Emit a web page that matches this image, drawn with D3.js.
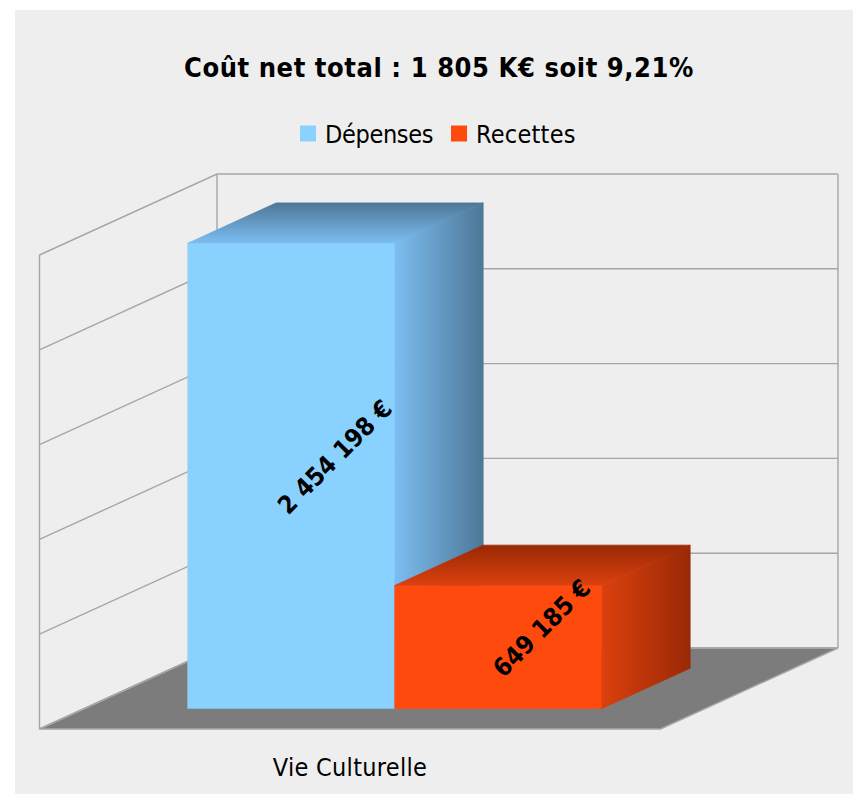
<!DOCTYPE html>
<html>
<head>
<meta charset="utf-8">
<script src="https://cdnjs.cloudflare.com/ajax/libs/d3/7.8.5/d3.min.js"></script>
<style>
  html, body { margin: 0; padding: 0; background: #fff; }
  svg { display: block; }
  text { font-family: "DejaVu Sans", sans-serif; font-stretch: condensed; fill: #000; }
</style>
</head>
<body>
<div id="chart"></div>
<script>
// Data
const chartTitle = 'Coût net total : 1 805 K€ soit 9,21%';
const category = 'Vie Culturelle';
const seriesNames = ['Dépenses', 'Recettes'];
const seriesValues = [2454198, 649185];
const valueLabels = ['2 454 198 €', '649 185 €'];
const seriesColors = ['#89d2ff', '#ff4a0d'];
const sideColors = [['#7cbef2', '#4e7797'], ['#dc400e', '#992905']];
const axisMax = 2500000;

const W = 853, H = 794;
const svg = d3.select('#chart').append('svg').attr('width', W).attr('height', H);

// panel
svg.append('rect').attr('x', 15).attr('y', 10).attr('width', W - 15).attr('height', H - 10).attr('fill', '#eeeeee');

// front-left corner of the floor, and how far the depth axis runs
const origin = {x: 39.5, y: 729};
const depth = {x: 177.5, y: 81};

const xScale = d3.scaleBand().domain(seriesNames).range([0, 621]).paddingInner(0).paddingOuter(0.5);
const yScale = d3.scaleLinear().domain([0, axisMax]).range([0, 474]);
const floorW = xScale.range()[1];

// x along the floor, v is a value, z goes 0 (front) to 1 (back)
const project = (x, v, z) => [origin.x + x + z * depth.x, origin.y - yScale(v) - z * depth.y];
const poly = pts => 'M' + pts.map(p => p.join(',')).join('L') + 'Z';
const line3d = d3.line();

const defs = svg.append('defs');
seriesNames.forEach((s, i) => {
  const side = defs.append('linearGradient').attr('id', 'side' + i);
  side.append('stop').attr('offset', '0%').attr('stop-color', sideColors[i][0]);
  side.append('stop').attr('offset', '100%').attr('stop-color', sideColors[i][1]);
  const top = defs.append('linearGradient').attr('id', 'top' + i)
    .attr('x1', 0).attr('y1', 1).attr('x2', 0).attr('y2', 0);
  top.append('stop').attr('offset', '0%').attr('stop-color', sideColors[i][0]);
  top.append('stop').attr('offset', '100%').attr('stop-color', sideColors[i][1]);
});

const gridColor = '#a6a6a6';

// floor
svg.append('path')
  .attr('d', poly([project(0, 0, 0), project(floorW, 0, 0), project(floorW, 0, 1), project(0, 0, 1)]))
  .attr('fill', '#7c7c7c').attr('stroke', gridColor).attr('stroke-width', 1.4);

const walls = svg.append('g').attr('fill', 'none').attr('stroke', gridColor).attr('stroke-width', 1.4);

// gridlines on the left and back walls
yScale.ticks(5).forEach(t => {
  walls.append('path').attr('d', line3d([project(0, t, 0), project(0, t, 1), project(floorW, t, 1)]));
});
walls.append('path').attr('d', line3d([project(0, 0, 0), project(0, axisMax, 0)]));
walls.append('path').attr('d', line3d([project(0, 0, 1), project(0, axisMax, 1)]));
walls.append('path').attr('d', line3d([project(floorW, 0, 1), project(floorW, axisMax, 1)]));

// bars, left one first so the red one overlaps its side
const zFront = 0.25, zBack = 0.75;
const bars = svg.append('g');
seriesNames.forEach((s, i) => {
  const x0 = xScale(s), x1 = x0 + xScale.bandwidth(), v = seriesValues[i];
  const g = bars.append('g');
  // thin stroke of the same gradient closes the seam along the diagonal
  g.append('path')
    .attr('d', poly([project(x1, 0, zFront), project(x1, v, zFront), project(x1, v, zBack), project(x1, 0, zBack)]))
    .attr('fill', `url(#side${i})`).attr('stroke', `url(#side${i})`).attr('stroke-width', 0.8);
  g.append('path')
    .attr('d', poly([project(x0, v, zFront), project(x1, v, zFront), project(x1, v, zBack), project(x0, v, zBack)]))
    .attr('fill', `url(#top${i})`).attr('stroke', `url(#top${i})`).attr('stroke-width', 0.8);
  g.append('path')
    .attr('d', poly([project(x0, 0, zFront), project(x1, 0, zFront), project(x1, v, zFront), project(x0, v, zFront)]))
    .attr('fill', seriesColors[i]);
});

// value labels
seriesNames.forEach((s, i) => {
  const x = xScale(s) + xScale.bandwidth() / 2;
  const p = project(x, seriesValues[i] / 2, zFront);
  svg.append('text')
    .attr('transform', `translate(${p[0] + 44},${p[1] - 19}) rotate(-45)`)
    .attr('text-anchor', 'middle').attr('dominant-baseline', 'central')
    .attr('font-size', 25).attr('font-weight', 700)
    .text(valueLabels[i]);
});

// title
svg.append('text').attr('x', 439).attr('y', 77).attr('text-anchor', 'middle')
  .attr('font-size', 27).attr('font-weight', 700).style('letter-spacing', '0.57px')
  .text(chartTitle);

// legend
const legendX = [300, 451], legendTextX = [325, 476];
const legendSpacing = ['-0.35px', '0.25px'];
seriesNames.forEach((s, i) => {
  svg.append('rect').attr('x', legendX[i]).attr('y', 125.5).attr('width', 16).attr('height', 16)
    .attr('fill', seriesColors[i]);
  svg.append('text').attr('x', legendTextX[i]).attr('y', 143).attr('font-size', 25)
    .style('letter-spacing', legendSpacing[i]).text(s);
});

// category label
svg.append('text').attr('x', 350).attr('y', 776).attr('text-anchor', 'middle').attr('font-size', 25)
  .style('letter-spacing', '0.3px').text(category);
</script>
</body>
</html>
